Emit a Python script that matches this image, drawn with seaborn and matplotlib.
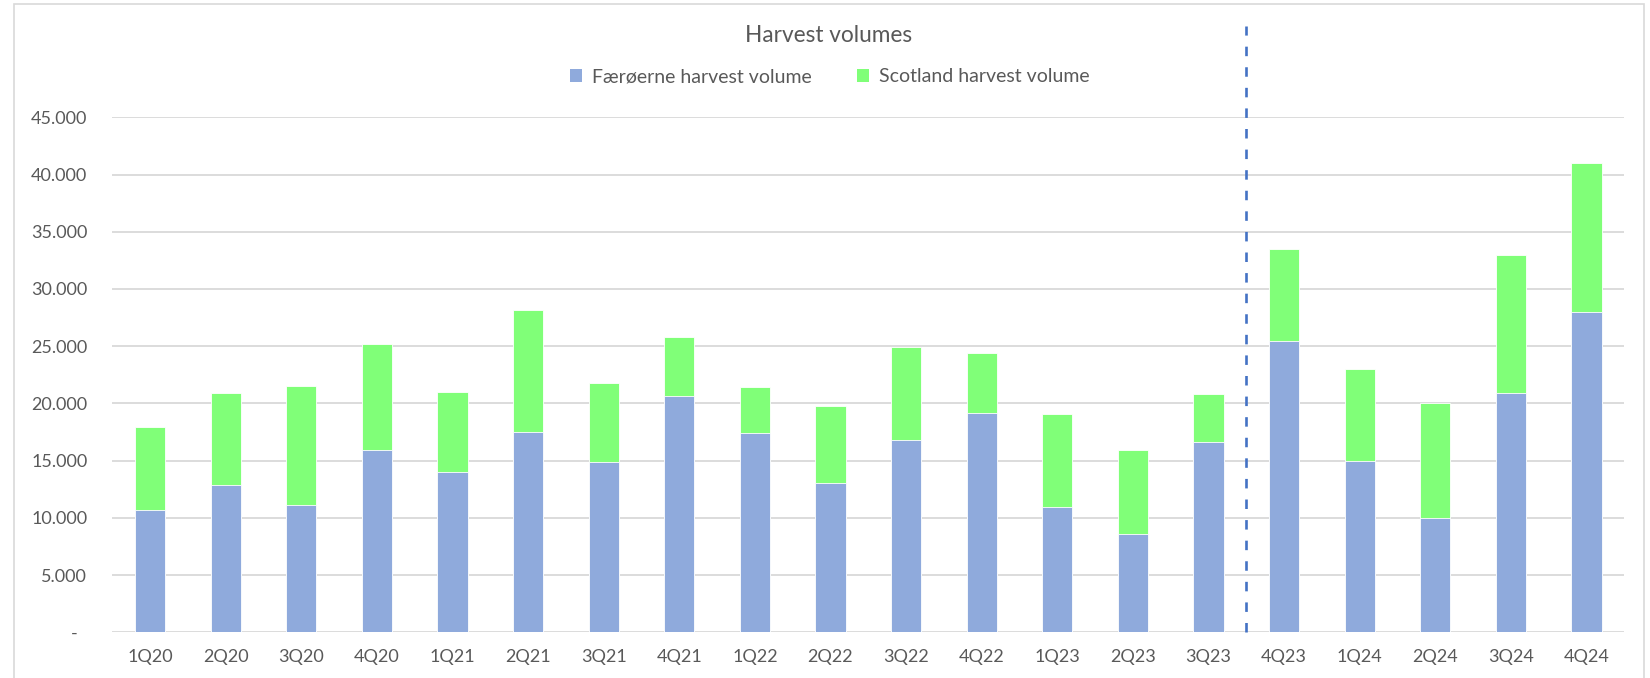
import numpy as np
import matplotlib
matplotlib.use("Agg")
import matplotlib.pyplot as plt
from matplotlib.patches import Rectangle, Patch
import seaborn as sns

# ---- data ----
quarters = ['1Q20', '2Q20', '3Q20', '4Q20', '1Q21', '2Q21', '3Q21', '4Q21',
            '1Q22', '2Q22', '3Q22', '4Q22', '1Q23', '2Q23', '3Q23', '4Q23',
            '1Q24', '2Q24', '3Q24', '4Q24']
faroe_volume = [10650, 12900, 11100, 15950, 14000, 17500, 14900, 20650,
                17400, 13050, 16800, 19200, 10950, 8600, 16650, 25450,
                14950, 10000, 20950, 28000]
scotland_volume = [7250, 8000, 10450, 9250, 7000, 10700, 6900, 5150,
                   4000, 6700, 8100, 5200, 8100, 7350, 4150, 8050,
                   8050, 10000, 12050, 13000]
yticks = [0, 5000, 10000, 15000, 20000, 25000, 30000, 35000, 40000, 45000]
ytick_labels = ['-  ', '5.000', '10.000', '15.000', '20.000', '25.000',
                '30.000', '35.000', '40.000', '45.000']
series_names = ['Færøerne harvest volume', 'Scotland harvest volume']
title = 'Harvest volumes'
divider_position = 14.5  # between 3Q23 and 4Q23

BLUE = '#8FAADC'
GREEN = '#80FF78'
TEXT = '#595959'
GRID = '#D9D9D9'

sns.set_style('white')
plt.rcParams['font.family'] = ['Lato', 'DejaVu Sans']

W, H = 1650, 678
fig = plt.figure(figsize=(W / 100, H / 100), dpi=100)
ax = fig.add_axes([112.3 / W, 1 - 632.3 / H, (1624.3 - 112.3) / W, (632.3 - 117.3) / H])

totals = np.array(faroe_volume) + np.array(scotland_volume)
sns.barplot(x=quarters, y=totals, color=GREEN, saturation=1, width=0.4,
            edgecolor='white', linewidth=0.6, ax=ax, zorder=2)
sns.barplot(x=quarters, y=faroe_volume, color=BLUE, saturation=1, width=0.4,
            edgecolor='white', linewidth=0.6, ax=ax, zorder=3)

ax.set_xlim(-0.5, len(quarters) - 0.5)
ax.set_ylim(0, 45000)
ax.set_yticks(yticks)
ax.set_yticklabels(ytick_labels)
ax.set_xlabel('')
ax.set_ylabel('')
for s in ax.spines.values():
    s.set_visible(False)
ax.yaxis.grid(True, color=GRID, linewidth=1.3, zorder=0)
ax.set_axisbelow(True)
ax.tick_params(axis='both', length=0, colors=TEXT, labelsize=13)
ax.tick_params(axis='y', pad=18)
ax.tick_params(axis='x', pad=12)

# dashed divider extending above the plot area
ax.plot([divider_position, divider_position], [0, 53000], color='#4472C4',
        linewidth=1.9, linestyle=(0, (3.6, 4.2)), clip_on=False, zorder=4)

fig.text(829 / W, 1 - 35 / H, title, ha='center', va='center',
         fontsize=16.3, color=TEXT)
handles = [Patch(facecolor=BLUE, edgecolor='none'), Patch(facecolor=GREEN, edgecolor='none')]
fig.legend(handles, series_names, loc='center', bbox_to_anchor=(830 / W, 1 - 77 / H),
           ncol=2, frameon=False, fontsize=14, labelcolor=TEXT,
           handlelength=0.6, handleheight=0.6, handletextpad=0.55, columnspacing=2.3)

fig.patches.append(Rectangle((14 / W, -0.02), (1644 - 14) / W, (H - 4) / H + 0.02,
                             transform=fig.transFigure, fill=False,
                             edgecolor=GRID, linewidth=1.2))

fig.savefig('out.png', dpi=100, facecolor='white')
